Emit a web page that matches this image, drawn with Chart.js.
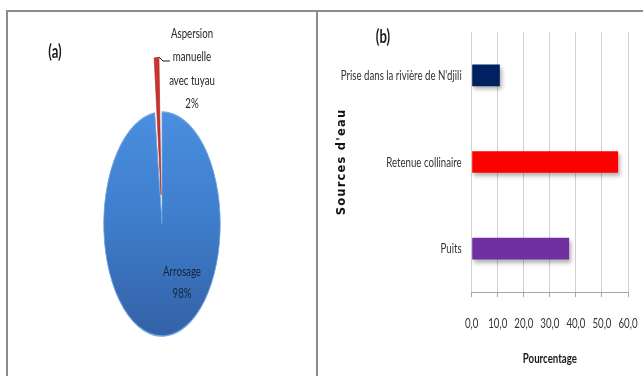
<!DOCTYPE html>
<html>
<head>
<meta charset="utf-8">
<script src="https://cdn.jsdelivr.net/npm/chart.js@4.4.1/dist/chart.umd.min.js"></script>
<style>
  html, body { margin: 0; padding: 0; background: #fff; }
  #page { position: relative; width: 643px; height: 376px; overflow: hidden; background: #fff; }
  .rule { position: absolute; background: #8c8c8c; }
  #wrapA { position: absolute; left: 8px; top: 12px; width: 308px; height: 364px; }
  #wrapB { position: absolute; left: 318px; top: 12px; width: 325px; height: 364px; }
</style>
</head>
<body>
<div id="page">
  <div class="rule" style="left:6px;top:10px;width:637px;height:2px"></div>
  <div class="rule" style="left:6px;top:10px;width:2px;height:366px"></div>
  <div class="rule" style="left:316px;top:10px;width:2px;height:366px"></div>
  <div id="wrapA"><canvas id="pie"></canvas></div>
  <div id="wrapB"><canvas id="bars"></canvas></div>
</div>
<script>
// (a) irrigation method
const pieLabels = [['Arrosage'], ['Aspersion', 'manuelle', 'avec tuyau']];
const pieValues = [98, 2];

// (b) water sources, percentage of respondents
const sources = ["Prise dans la rivière de N'djili", 'Retenue collinaire', 'Puits'];
const sourceShares = [10.8, 56.2, 37.4];
const sourceColors = ['#002060', '#ff0000', '#7030a0'];
const shareTicks = [0, 10, 20, 30, 40, 50, 60];

// Condensed lettering: a humanist face drawn with a horizontal squeeze
const TEXT_FONT = "Lato, 'Liberation Sans', sans-serif";
const TEXT_SQUEEZE = 0.69;

function squeezedText(ctx, text, x, y, opts) {
  const o = Object.assign({ size: 14, weight: 'normal', color: '#333', align: 'center' }, opts || {});
  ctx.save();
  ctx.translate(x, y);
  ctx.scale(TEXT_SQUEEZE, 1);
  ctx.font = o.weight + ' ' + o.size + 'px ' + TEXT_FONT;
  ctx.fillStyle = o.color;
  ctx.textAlign = o.align;
  ctx.textBaseline = 'middle';
  ctx.fillText(text, 0, 0);
  ctx.restore();
}

const PIE_RADIUS = 112;
const PIE_SQUEEZE = 0.52;   // pie is seen edge-on, so it reads as a tall ellipse

function blueFill(chart) {
  const area = chart.chartArea;
  if (!area) return '#3f7ecb';
  const cy = (area.top + area.bottom) / 2;
  const g = chart.ctx.createLinearGradient(0, cy - PIE_RADIUS, 0, cy + PIE_RADIUS);
  g.addColorStop(0, '#4a8edf');
  g.addColorStop(0.45, '#3f7fcd');
  g.addColorStop(1, '#3361a6');
  return g;
}

const ellipsePie = {
  id: 'ellipsePie',
  beforeDatasetsDraw(chart) {
    const arc = chart.getDatasetMeta(0).data[0];
    const ctx = chart.ctx;
    ctx.save();
    ctx.translate(arc.x, arc.y);
    ctx.scale(PIE_SQUEEZE, 1);
    ctx.translate(-arc.x, -arc.y);
  },
  afterDatasetsDraw(chart) {
    const ctx = chart.ctx;
    ctx.restore();
    const arc = chart.getDatasetMeta(0).data[0];
    const cx = arc.x, cy = arc.y;

    // small slice label, outside above the pie, with its leader line
    pieLabels[1].concat(pieValues[1] + '%').forEach((t, i) => {
      squeezedText(ctx, t, cx + 30, cy - 191 + i * 23.5, { color: '#262626' });
    });
    ctx.save();
    ctx.strokeStyle = '#1a1a1a';
    ctx.lineWidth = 1;
    ctx.beginPath();
    ctx.moveTo(cx - 3, cy - 167);
    ctx.lineTo(cx + 1, cy - 163);
    ctx.lineTo(cx + 8, cy - 163);
    ctx.stroke();
    ctx.restore();

    // large slice label, inside
    pieLabels[0].concat(pieValues[0] + '%').forEach((t, i) => {
      squeezedText(ctx, t, cx + 20, cy + 47 + i * 22, { color: '#15223a' });
    });

    squeezedText(ctx, '(a)', 47, 40, { size: 19, weight: 'bold', color: '#1a1a1a' });
  }
};

new Chart(document.getElementById('pie'), {
  type: 'pie',
  data: {
    labels: pieLabels,
    datasets: [{
      data: pieValues,
      backgroundColor: (c) => c.dataIndex === 0 ? blueFill(c.chart) : '#d0322c',
      borderColor: ['#6fa4e4', '#9c1f1a'],
      borderWidth: [1.5, 0.8],
      offset: [0, 117]
    }]
  },
  options: {
    responsive: true,
    maintainAspectRatio: false,
    animation: false,
    devicePixelRatio: 1,
    radius: PIE_RADIUS,
    layout: { padding: { top: 60 } },
    plugins: { legend: { display: false }, tooltip: { enabled: false } }
  },
  plugins: [ellipsePie]
});

const barShadow = {
  id: 'barShadow',
  beforeDatasetsDraw(chart) {
    const ctx = chart.ctx;
    ctx.save();
    ctx.shadowColor = 'rgba(0,0,0,0.3)';
    ctx.shadowBlur = 4;
    ctx.shadowOffsetX = 2;
    ctx.shadowOffsetY = 3;
  },
  afterDatasetsDraw(chart) {
    chart.ctx.restore();
  }
};

// Axis lettering, placed from the chart's own scales
const barText = {
  id: 'barText',
  afterDraw(chart) {
    const ctx = chart.ctx;
    const area = chart.chartArea;
    const xs = chart.scales.x;
    const ys = chart.scales.y;

    sources.forEach((s, i) => {
      squeezedText(ctx, s, area.left - 10, ys.getPixelForValue(i), { align: 'right' });
    });
    shareTicks.forEach((v) => {
      squeezedText(ctx, v.toFixed(1).replace('.', ','), xs.getPixelForValue(v), area.bottom + 31.5);
    });
    squeezedText(ctx, 'Pourcentage', (area.left + area.right) / 2, area.bottom + 66, { weight: 'bold', color: '#1a1a1a' });

    ctx.save();
    ctx.translate(24, (area.top + area.bottom) / 2);
    ctx.rotate(-Math.PI / 2);
    ctx.font = "bold 11.5px 'DejaVu Sans', sans-serif";
    ctx.letterSpacing = '1.2px';
    ctx.textAlign = 'center';
    ctx.textBaseline = 'middle';
    ctx.fillStyle = '#111';
    ctx.fillText("Sources d'eau", 0, 0);
    ctx.restore();

    squeezedText(ctx, '(b)', 65, 25, { size: 19, weight: 'bold', color: '#1a1a1a' });
  }
};

new Chart(document.getElementById('bars'), {
  type: 'bar',
  data: {
    labels: sources,
    datasets: [{
      data: sourceShares,
      backgroundColor: sourceColors,
      borderWidth: 0,
      barPercentage: 0.25,
      categoryPercentage: 1
    }]
  },
  options: {
    indexAxis: 'y',
    responsive: true,
    maintainAspectRatio: false,
    animation: false,
    devicePixelRatio: 1,
    layout: { padding: { left: 0, right: 15, top: 20, bottom: 0 } },
    plugins: { legend: { display: false }, tooltip: { enabled: false } },
    scales: {
      x: {
        min: shareTicks[0],
        max: shareTicks[shareTicks.length - 1],
        ticks: { stepSize: shareTicks[1] - shareTicks[0], display: false },
        grid: { color: '#d0d0d0', lineWidth: 1, drawTicks: true, tickLength: 5, tickColor: '#a6a6a6' },
        border: { display: true, color: '#a6a6a6', width: 1 },
        afterFit: (s) => { s.height = 84; }
      },
      y: {
        grid: { display: false, drawTicks: false },
        border: { display: false },
        ticks: { display: false, autoSkip: false },
        afterFit: (s) => { s.width = 153.7; }
      }
    }
  },
  plugins: [barShadow, barText]
});
</script>
</body>
</html>
